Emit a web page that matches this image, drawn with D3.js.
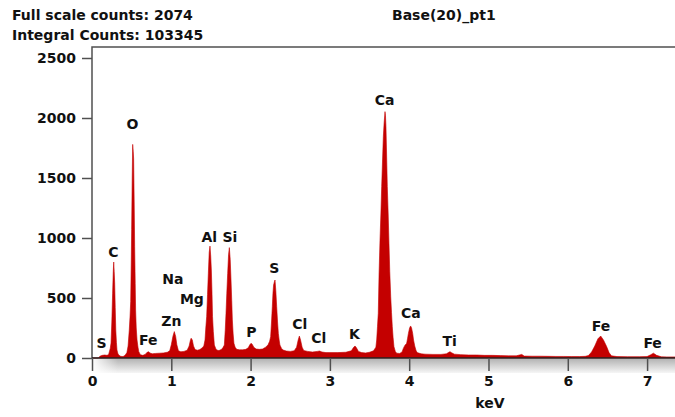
<!DOCTYPE html>
<html>
<head>
<meta charset="utf-8">
<script src="https://cdn.jsdelivr.net/npm/d3@7"></script>
<style>
  body { margin: 0; background: #fff; }
  svg text { font-family: "DejaVu Sans", Verdana, sans-serif; font-weight: bold; font-size: 14px; fill: #111; }
</style>
</head>
<body>
<div id="chart"></div>
<script>
var width = 675, height = 417;
var margin = {top: 47, left: 92, bottom: 358};

// spectrum: energy (keV) and counts
var energyKeV = [0.00,0.08,0.10,0.13,0.16,0.19,0.21,0.23,0.24,0.25,0.26,0.268,0.274,0.28,0.286,0.293,0.30,0.308,0.315,0.325,0.336,0.36,0.38,0.40,0.42,0.44,0.455,0.47,0.48,0.488,0.495,0.50,0.507,0.513,0.52,0.525,0.532,0.538,0.545,0.55,0.558,0.568,0.58,0.59,0.61,0.64,0.67,0.70,0.715,0.73,0.76,0.80,0.85,0.90,0.95,0.98,1.00,1.02,1.038,1.055,1.07,1.09,1.12,1.16,1.20,1.225,1.24,1.25,1.265,1.28,1.30,1.33,1.36,1.39,1.41,1.425,1.435,1.446,1.457,1.467,1.478,1.488,1.497,1.505,1.513,1.52,1.53,1.543,1.56,1.572,1.60,1.63,1.65,1.669,1.68,1.69,1.70,1.711,1.722,1.732,1.743,1.753,1.762,1.77,1.78,1.79,1.805,1.825,1.86,1.90,1.94,1.97,1.99,2.005,2.02,2.04,2.07,2.11,2.15,2.19,2.22,2.24,2.253,2.264,2.274,2.282,2.29,2.302,2.308,2.318,2.329,2.34,2.35,2.36,2.37,2.39,2.41,2.45,2.50,2.55,2.58,2.60,2.615,2.63,2.65,2.67,2.72,2.78,2.84,2.87,2.90,2.95,3.00,3.10,3.20,3.27,3.30,3.317,3.335,3.36,3.40,3.45,3.50,3.55,3.58,3.59,3.60,3.61,3.62,3.632,3.643,3.653,3.664,3.674,3.684,3.695,3.701,3.707,3.715,3.724,3.735,3.745,3.755,3.767,3.777,3.787,3.797,3.808,3.825,3.842,3.88,3.91,3.926,3.945,3.968,3.98,3.99,4.005,4.018,4.03,4.044,4.055,4.07,4.085,4.10,4.15,4.20,4.30,4.40,4.47,4.50,4.515,4.53,4.57,4.65,4.75,4.85,4.95,5.05,5.15,5.25,5.35,5.42,5.45,5.55,5.65,5.75,5.85,5.95,6.05,6.15,6.22,6.26,6.30,6.34,6.38,6.415,6.45,6.49,6.52,6.55,6.62,6.75,6.90,7.00,7.04,7.08,7.12,7.18,7.25,7.36];
var counts = [0,0,15,22,25,22,30,80,125,300,540,720,800,720,625,420,233,130,67,40,25,15,12,15,25,45,100,233,350,470,800,1070,1500,1780,1720,1660,1300,930,620,400,250,150,90,53,28,22,30,50,52,42,35,38,40,42,48,60,110,180,220,180,110,60,52,55,65,100,145,165,150,100,70,65,70,85,100,150,250,344,530,705,880,933,850,733,550,344,220,108,80,67,62,70,85,108,230,372,540,705,860,920,820,650,480,317,200,122,90,72,68,68,72,85,110,122,115,90,75,72,75,90,110,140,178,300,428,540,608,640,650,560,428,300,205,150,108,80,67,58,55,60,90,150,183,150,90,62,55,50,55,58,50,45,45,45,48,60,90,100,85,55,45,42,48,60,90,150,260,372,700,983,1200,1428,1650,1844,1960,2053,2020,1928,1700,1428,1200,955,720,511,380,261,170,94,55,40,38,50,80,105,122,165,205,250,267,250,205,150,100,65,45,35,32,30,30,35,48,53,45,32,28,25,25,22,22,20,18,18,30,16,15,15,14,13,13,12,12,14,20,50,100,160,183,150,95,45,18,12,11,11,12,25,40,22,10,9,9];

// peak labels
var peakNames = ["S","C","O","Fe","Na","Mg","Zn","Al","Si","P","S","Cl","Cl","K","Ca","Ca","Ti","Fe","Fe"];
var peakKeV   = [0.12,0.27,0.51,0.71,1.02,1.26,1.0,1.48,1.74,2.01,2.30,2.62,2.86,3.31,3.69,4.02,4.51,6.42,7.07];
var peakLabelCounts = [83,842,1908,108,617,450,267,967,967,175,712,242,125,158,2108,333,100,229,83];

var yTicks = [0, 500, 1000, 1500, 2000, 2500];
var xTicks = [0, 1, 2, 3, 4, 5, 6, 7];

var svg = d3.select("#chart").append("svg")
    .attr("width", width)
    .attr("height", height);

var x = d3.scaleLinear().domain([0, 7.352]).range([margin.left, width]);
var y = d3.scaleLinear().domain([0, 2500]).range([margin.bottom, 58]);

var defs = svg.append("defs");
var band = defs.append("linearGradient").attr("id", "band").attr("x1", 0).attr("y1", 0).attr("x2", 0).attr("y2", 1);
band.append("stop").attr("offset", "0%").attr("stop-color", "#b4b4b4");
band.append("stop").attr("offset", "100%").attr("stop-color", "#f6f6f6");
var fade = defs.append("linearGradient").attr("id", "fade").attr("x1", 0).attr("y1", 0).attr("x2", 1).attr("y2", 0);
fade.append("stop").attr("offset", "0%").attr("stop-color", "#fff").attr("stop-opacity", 1);
fade.append("stop").attr("offset", "100%").attr("stop-color", "#fff").attr("stop-opacity", 0);

// grey shadow band under the axis
svg.append("rect").attr("x", margin.left).attr("y", margin.bottom + 1)
    .attr("width", width - margin.left).attr("height", 14).attr("fill", "url(#band)");
svg.append("rect").attr("x", margin.left).attr("y", margin.bottom + 1)
    .attr("width", 26).attr("height", 14).attr("fill", "url(#fade)");

var data = energyKeV.map(function(e, i){ return {e: e, c: counts[i]}; });

var area = d3.area()
    .x(function(d){ return x(d.e); })
    .y0(y(0))
    .y1(function(d){ return y(d.c); });

svg.append("path")
    .datum(data)
    .attr("d", area)
    .attr("fill", "#c40000")
    .attr("stroke", "#c40000")
    .attr("stroke-width", 0.6);

// frame (left and top)
svg.append("path")
    .attr("d", "M" + margin.left + "," + margin.bottom + "V" + margin.top + "H" + width)
    .attr("fill", "none")
    .attr("stroke", "#505050")
    .attr("stroke-width", 1.5);

var yAxis = svg.append("g")
    .attr("transform", "translate(" + margin.left + ",0)")
    .call(d3.axisLeft(y).tickValues(yTicks).tickSize(10).tickPadding(6).tickFormat(d3.format("d")));
yAxis.select(".domain").remove();
yAxis.selectAll("line").attr("stroke", "#505050").attr("stroke-width", 1.5);
yAxis.selectAll("text").attr("font-family", null).attr("font-size", null);

var xAxis = svg.append("g")
    .attr("transform", "translate(0," + margin.bottom + ")")
    .call(d3.axisBottom(x).tickValues(xTicks).tickSize(13).tickPadding(5).tickFormat(d3.format("d")));
xAxis.select(".domain").attr("d", "M" + margin.left + ",0H" + width).attr("stroke", "#222").attr("stroke-width", 1.5);
xAxis.selectAll("line").attr("stroke", "#505050").attr("stroke-width", 1.5);
xAxis.selectAll("text").attr("font-family", null).attr("font-size", null);

svg.append("text").attr("x", 490).attr("y", 408).attr("text-anchor", "middle").text("keV");

// peak labels
svg.selectAll(".peak")
    .data(peakNames)
    .enter()
    .append("text")
    .attr("class", "peak")
    .attr("text-anchor", "middle")
    .attr("x", function(d, i){ return x(peakKeV[i]); })
    .attr("y", function(d, i){ return y(peakLabelCounts[i]); })
    .text(function(d){ return d; });

// header
svg.append("text").attr("x", 12).attr("y", 20).text("Full scale counts: 2074");
svg.append("text").attr("x", 12).attr("y", 40).text("Integral Counts: 103345");
svg.append("text").attr("x", 392).attr("y", 20).text("Base(20)_pt1");
</script>
</body>
</html>
